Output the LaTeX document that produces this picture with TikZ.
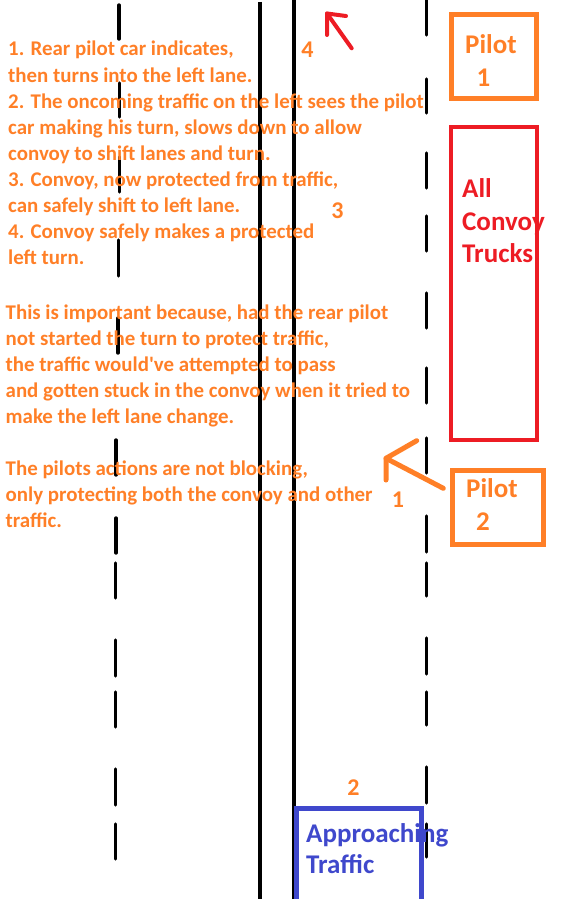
\documentclass[tikz,border=0pt]{standalone}
\usepackage{fontspec}
\setmainfont{Carlito}[Ligatures=TeXOff]
\definecolor{porange}{RGB}{255,127,39}
\definecolor{pred}{RGB}{237,28,36}
\definecolor{pblue}{RGB}{63,72,204}
\begin{document}
\begin{tikzpicture}[x=1pt,y=-1pt,
  body/.style={anchor=base west, inner sep=0pt, text=porange, font=\bfseries\fontsize{20.9}{24}\selectfont},
  numlabel/.style={anchor=base, inner sep=0pt, text=porange, font=\bfseries\fontsize{24}{28}\selectfont},
  boxtext/.style={anchor=base west, inner sep=0pt, font=\bfseries\fontsize{27}{32}\selectfont},
  solidline/.style={line width=4.4pt},
  dashline/.style={line width=3.4pt, line cap=round},
  carbox/.style={draw, line width=5pt, inner sep=0pt, outer sep=0pt, anchor=north west},
  pen/.style={line width=4.5pt, line cap=round, line join=round}]
\useasboundingbox (0,0) rectangle (571,899);
% road lines
\draw[solidline] (260,2) coordinate (la) -- (260,899) coordinate (lb);
\draw[solidline] (294,0) coordinate (ma) -- (294,899) coordinate (mb);
\foreach \a/\b/\x [count=\k] in {5/39/119,83/117/119.3,157/192/119.3,240/276/118.6,318/353/117.9,440/475/116,518/553/116,563/598/115.7,640/676/115.7,692/727/115.7,769/805/115.7,824/859/115.7}
  \draw[dashline] (\x,\a) coordinate (ld\k) -- (\x,\b) coordinate (le\k);
\foreach \a/\b [count=\k] in {0/35,79/113,153/188,216/251,293/328,368/403,438/473,516/552,563/596,638/674,692/725,767/803,824/857}
  \draw[dashline] (426.3,\a) coordinate (rd\k) -- (426.3,\b) coordinate (re\k);
% text block
\foreach \t [count=\i] in {{1. Rear pilot car indicates,},{then turns into the left lane.},{2. The oncoming traffic on the left sees the pilot},{car making his turn, slows down to allow},{convoy to shift lanes and turn.},{3. Convoy, now protected from traffic,},{can safely shift to left lane.},{4. Convoy safely makes a protected},{left turn.}}
  \node[body] (a\i) at (8,{56+26*(\i-1)}) {\t};
\foreach \t/\yy [count=\i] in {{This is important because, had the rear pilot}/319,{not started the turn to protect traffic,}/345,{the traffic would've attempted to pass}/371,{and gotten stuck in the convoy when it tried to}/397,{make the left lane change.}/423,{The pilots actions are not blocking,}/475,{only protecting both the convoy and other}/501,{traffic.}/527}
  \node[body] (b\i) at (5.5,\yy) {\t};
% number labels
\node[numlabel] (n4) at (307.5,58) {4};
\node[numlabel] (n3) at (337.5,218) {3};
\node[numlabel] (n1) at (398,507) {1};
\node[numlabel] (n2) at (353.5,795) {2};
% Pilot 1
\node[carbox, draw=porange, minimum width=85pt, minimum height=84pt] (p1box) at (451.5,14.5) {};
\node[boxtext, text=porange] (p1a) at (465,53) {Pilot};
\node[boxtext, text=porange, anchor=base] (p1b) at (483.5,86) {1};
% Convoy
\node[boxtext, text=pred] (c1) at (462,197) {All};
\node[boxtext, text=pred] (c2) at (462,230) {Convoy};
\node[boxtext, text=pred] (c3) at (462,262) {Trucks};
\node[carbox, draw=pred, line width=4.5pt, minimum width=85.6pt, minimum height=312.6pt] (cbox) at (451.2,127.2) {};
% Pilot 2
\node[carbox, draw=porange, minimum width=91pt, minimum height=74pt] (p2box) at (452.5,470.5) {};
\node[boxtext, text=porange] (p2a) at (466,497) {Pilot};
\node[boxtext, text=porange, anchor=base] (p2b) at (483,530) {2};
% Approaching traffic
\node[boxtext, text=pblue] (t1) at (306,842) {Approaching};
\node[boxtext, text=pblue] (t2) at (306,873) {Traffic};
\coordinate (bl) at (296.5,902);
\coordinate (br) at (421.5,902);
\draw[pblue, line width=5pt] (bl) -- (296.5,808.5) -- (421.5,808.5) -- (br);
% red arrow
\coordinate (rt) at (351.7,48.3);
\coordinate (rh) at (327,13.5);
\coordinate (rh1) at (346,16);
\coordinate (rh2) at (327,35);
\draw[pen, pred, line width=4pt] (rt) -- (rh);
\draw[pen, pred, line width=4pt] (rh1) -- (rh) -- (rh2);
% orange arrow
\coordinate (ot) at (443.3,488.3);
\coordinate (oh) at (386,458.3);
\coordinate (oh1) at (416.7,440.7);
\coordinate (oh2) at (386,480);
\draw[pen, porange, line width=5pt] (ot) -- (oh);
\draw[pen, porange, line width=5pt] (oh1) -- (oh) -- (oh2);
\end{tikzpicture}
\end{document}
